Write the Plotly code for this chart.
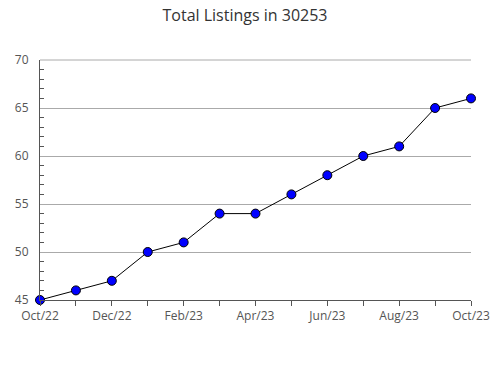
import plotly.graph_objects as go

months = ["Oct/22", "Nov/22", "Dec/22", "Jan/23", "Feb/23", "Mar/23", "Apr/23",
          "May/23", "Jun/23", "Jul/23", "Aug/23", "Sep/23", "Oct/23"]
listings = [45, 46, 47, 50, 51, 54, 54, 56, 58, 60, 61, 65, 66]
tick_labels = [m if i % 2 == 0 else "" for i, m in enumerate(months)]

x = list(range(len(months)))

fig = go.Figure()
fig.add_trace(go.Scatter(
    x=x, y=listings, mode="lines+markers",
    line=dict(color="black", width=1),
    marker=dict(color="#0000ff", size=9, line=dict(color="black", width=1)),
    cliponaxis=False,
    hoverinfo="skip",
))

fig.update_layout(
    width=490, height=380,
    margin=dict(l=40, r=19, t=60, b=80),
    paper_bgcolor="white", plot_bgcolor="white",
    font=dict(family="Open Sans, sans-serif", color="#555555", size=12),
    title=dict(text="Total Listings in 30253", x=0.5, xanchor="center",
               y=1 - 15/380, yanchor="middle",
               font=dict(size=16, color="#333333")),
    showlegend=False,
    shapes=[dict(type="line", xref="x domain", yref="y domain",
                 x0=0, x1=1, y0=1, y1=1,
                 line=dict(color="#aaaaaa", width=1), layer="below")],
)
fig.update_xaxes(
    range=[0, len(months) - 1], automargin=False,
    tickmode="array", tickvals=x, ticktext=tick_labels,
    ticks="outside", ticklen=5, tickcolor="#555555",
    showline=True, linecolor="#555555", linewidth=1,
    showgrid=False, zeroline=False,
)
fig.update_yaxes(
    range=[45, 70], dtick=5, tick0=45, automargin=False,
    ticks="", ticklabelstandoff=8,
    showline=True, linecolor="#555555", linewidth=1,
    showgrid=True, gridcolor="#aaaaaa", gridwidth=1, zeroline=False,
    minor=dict(dtick=1, ticks="inside", ticklen=4, tickcolor="#555555", showgrid=False),
)

fig.write_html("out.html")
